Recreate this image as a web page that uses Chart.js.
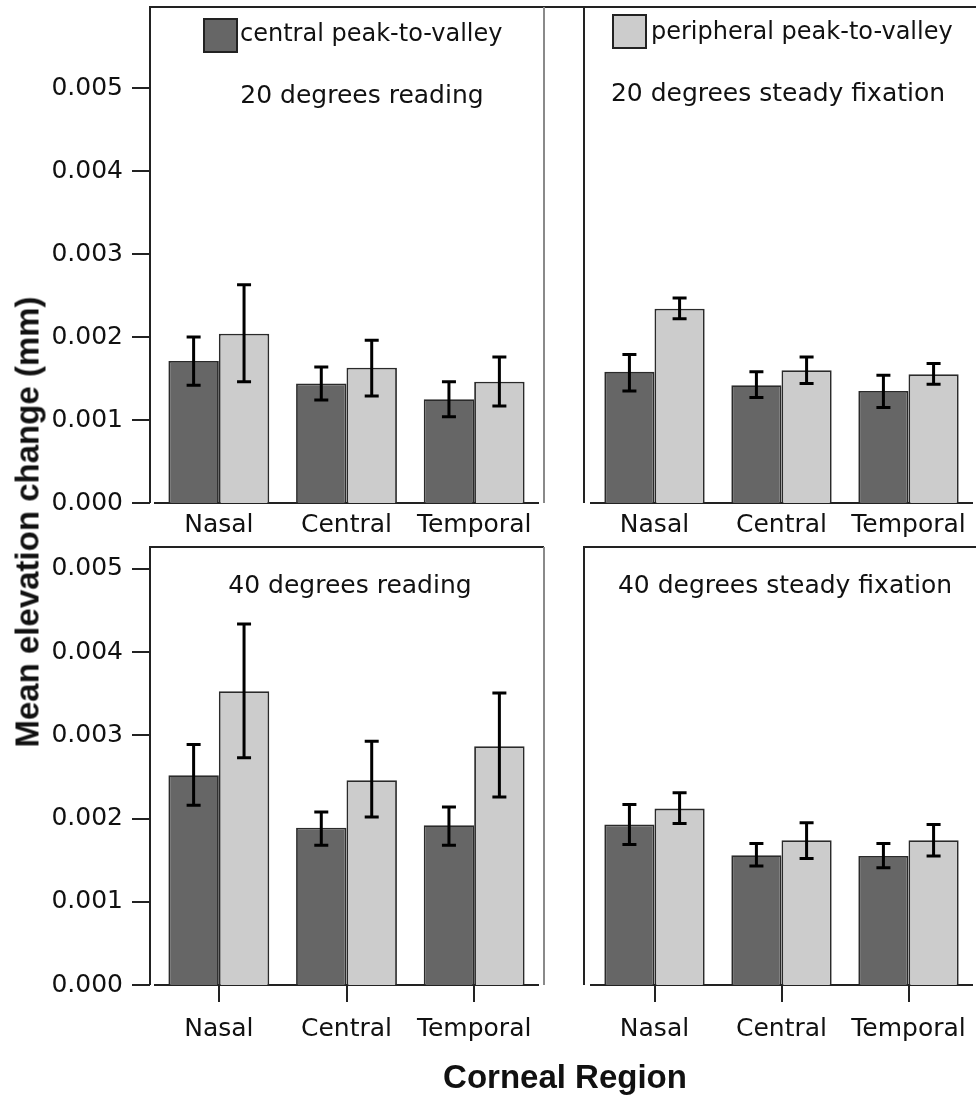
<!DOCTYPE html>
<html>
<head>
<meta charset="utf-8">
<script src="https://cdn.jsdelivr.net/npm/chart.js@4.4.1/dist/chart.umd.min.js"></script>
<style>
  body { margin: 0; background: #fff; }
  #wrap { position: relative; width: 976px; height: 1095px; overflow: hidden; font-family: 'DejaVu Sans'; color: #111; }
  canvas { position: absolute; left: 0; top: 0; }
  .key { position: absolute; font-size: 24px; line-height: 1; white-space: nowrap; }
  .key i { position: absolute; width: 31px; height: 31px; border: 2px solid #222; }
  .axis-title { position: absolute; font-family: 'Liberation Sans'; font-weight: bold; font-size: 33px; line-height: 1; white-space: nowrap; transform: translate(-50%, -50%); }
</style>
</head>
<body>
<div id="wrap">
  <canvas id="p1" width="976" height="1095"></canvas>
  <canvas id="p2" width="976" height="1095"></canvas>
  <canvas id="p3" width="976" height="1095"></canvas>
  <canvas id="p4" width="976" height="1095"></canvas>
  <div class="axis-title" style="left:27px; top:522px; transform: translate(-50%, -50%) rotate(-90deg);">Mean elevation change (mm)</div>
  <div class="axis-title" style="left:565px; top:1076px;">Corneal Region</div>
</div>
<script>
const regions = ['Nasal', 'Central', 'Temporal'];
const seriesNames = ['central peak-to-valley', 'peripheral peak-to-valley'];
const seriesColors = ['#666666', '#cccccc'];
const yTicks = [0, 0.001, 0.002, 0.003, 0.004, 0.005];
const panelTitles = ['20 degrees reading', '20 degrees steady fixation', '40 degrees reading', '40 degrees steady fixation'];

// mean elevation change with 95% CI bounds
const read20Central = [0.00171, 0.00144, 0.00125];
const read20CentralLow = [0.00142, 0.00124, 0.00104];
const read20CentralHigh = [0.00200, 0.00164, 0.00146];
const read20Periph = [0.00204, 0.00163, 0.00146];
const read20PeriphLow = [0.00146, 0.00129, 0.00117];
const read20PeriphHigh = [0.00263, 0.00196, 0.00176];

const fix20Central = [0.00158, 0.00142, 0.00135];
const fix20CentralLow = [0.00135, 0.00127, 0.00115];
const fix20CentralHigh = [0.00179, 0.00158, 0.00154];
const fix20Periph = [0.00234, 0.00160, 0.00155];
const fix20PeriphLow = [0.00222, 0.00144, 0.00143];
const fix20PeriphHigh = [0.00247, 0.00176, 0.00168];

const read40Central = [0.00252, 0.00189, 0.00192];
const read40CentralLow = [0.00216, 0.00168, 0.00168];
const read40CentralHigh = [0.00289, 0.00208, 0.00214];
const read40Periph = [0.00353, 0.00246, 0.00287];
const read40PeriphLow = [0.00273, 0.00202, 0.00226];
const read40PeriphHigh = [0.00434, 0.00293, 0.00351];

const fix40Central = [0.00193, 0.00156, 0.00155];
const fix40CentralLow = [0.00169, 0.00143, 0.00141];
const fix40CentralHigh = [0.00217, 0.00170, 0.00170];
const fix40Periph = [0.00212, 0.00174, 0.00174];
const fix40PeriphLow = [0.00194, 0.00152, 0.00155];
const fix40PeriphHigh = [0.00231, 0.00195, 0.00193];

Chart.defaults.font.family = 'DejaVu Sans';
Chart.defaults.color = '#111';

// whiskers for the confidence intervals
const errorBars = {
  id: 'errorBars',
  afterDatasetsDraw(chart) {
    const ctx = chart.ctx, y = chart.scales.y;
    ctx.save();
    ctx.strokeStyle = '#000';
    ctx.lineWidth = 3;
    chart.data.datasets.forEach((ds, i) => {
      chart.getDatasetMeta(i).data.forEach((bar, j) => {
        const hi = y.getPixelForValue(ds.errHigh[j]);
        const lo = y.getPixelForValue(ds.errLow[j]);
        ctx.beginPath();
        ctx.moveTo(bar.x, hi); ctx.lineTo(bar.x, lo);
        ctx.moveTo(bar.x - 7, hi); ctx.lineTo(bar.x + 7, hi);
        ctx.moveTo(bar.x - 7, lo); ctx.lineTo(bar.x + 7, lo);
        ctx.stroke();
      });
    });
    ctx.restore();
  }
};

// panel box, y tick marks and the panel caption
const panelFrame = {
  id: 'panelFrame',
  afterDraw(chart, args, o) {
    const ctx = chart.ctx, y = chart.scales.y, bottom = chart.chartArea.bottom;
    ctx.save();
    ctx.lineWidth = 2;
    ctx.strokeStyle = '#222';
    ctx.beginPath();
    ctx.moveTo(o.left, bottom);
    ctx.lineTo(o.left, o.top);
    ctx.lineTo(o.topEnd, o.top);
    ctx.stroke();
    if (o.right) {
      ctx.strokeStyle = '#8a8a8a';
      ctx.beginPath();
      ctx.moveTo(o.right, o.top);
      ctx.lineTo(o.right, bottom);
      ctx.stroke();
    }
    if (o.yTicks) {
      ctx.strokeStyle = '#222';
      y.ticks.forEach(t => {
        const py = Math.round(y.getPixelForValue(t.value));
        ctx.beginPath();
        ctx.moveTo(o.left - 18, py);
        ctx.lineTo(o.left, py);
        ctx.stroke();
      });
    }
    ctx.fillStyle = '#111';
    ctx.font = '25px "DejaVu Sans"';
    ctx.textAlign = 'center';
    ctx.textBaseline = 'middle';
    ctx.fillText(o.title, o.titleX, o.titleY);
    ctx.restore();
  }
};

const makePanel = (id, p) => {
  const xh = p.xTicks ? 60 : 50;
  new Chart(document.getElementById(id), {
    type: 'bar',
    data: {
      labels: regions,
      datasets: [
        { label: seriesNames[0], data: p.central, errLow: p.centralLow, errHigh: p.centralHigh,
          backgroundColor: seriesColors[0], borderColor: '#2a2a2a', borderWidth: 1.8 },
        { label: seriesNames[1], data: p.periph, errLow: p.periphLow, errHigh: p.periphHigh,
          backgroundColor: seriesColors[1], borderColor: '#2a2a2a', borderWidth: 1.8 }
      ]
    },
    options: {
      responsive: false,
      animation: false,
      categoryPercentage: 0.79,
      barPercentage: 1.0,
      layout: { padding: { left: p.showY ? 0 : p.left, right: 976 - p.right, top: p.top, bottom: 1095 - p.bottom - xh } },
      plugins: {
        legend: { display: false },
        tooltip: { enabled: false },
        panelFrame: { left: p.frameLeft, top: p.top, topEnd: p.topEnd, right: p.frameRight, yTicks: p.showY,
                      title: p.title, titleX: p.titleX, titleY: p.titleY }
      },
      scales: {
        x: {
          offset: true,
          grid: { display: true, drawOnChartArea: false, drawTicks: p.xTicks, tickLength: 17, offset: false, color: '#222', lineWidth: 2 },
          border: { display: true, color: '#222', width: 2 },
          ticks: { font: { size: 25 }, color: '#111', padding: p.xTicks ? 12 : 7, maxRotation: 0, autoSkip: false },
          afterFit: s => { s.height = xh; s.paddingLeft = 0; s.paddingRight = 0; }
        },
        y: {
          display: p.showY,
          bounds: 'data',
          min: 0,
          max: p.yMax,
          afterBuildTicks: s => { s.ticks = yTicks.map(v => ({ value: v })); },
          grid: { display: false, drawTicks: false },
          border: { display: false },
          ticks: { font: { size: 25 }, color: '#111', padding: 32, callback: v => v.toFixed(3) },
          afterFit: s => {
            if (p.showY) s.width = p.left;
            s.paddingTop = 0;
            s.paddingBottom = 0;
          }
        }
      }
    },
    plugins: [errorBars, panelFrame]
  });
};

makePanel('p1', {
  central: read20Central, centralLow: read20CentralLow, centralHigh: read20CentralHigh,
  periph: read20Periph, periphLow: read20PeriphLow, periphHigh: read20PeriphHigh,
  left: 155, right: 538, top: 7, bottom: 503, yMax: 0.005976, showY: true, xTicks: false,
  frameLeft: 150, frameRight: 544, topEnd: 976, title: panelTitles[0], titleX: 362, titleY: 96
});
makePanel('p2', {
  central: fix20Central, centralLow: fix20CentralLow, centralHigh: fix20CentralHigh,
  periph: fix20Periph, periphLow: fix20PeriphLow, periphHigh: fix20PeriphHigh,
  left: 591, right: 972, top: 7, bottom: 503, yMax: 0.005976, showY: false, xTicks: false,
  frameLeft: 584, frameRight: null, topEnd: 976, title: panelTitles[1], titleX: 778, titleY: 94
});
makePanel('p3', {
  central: read40Central, centralLow: read40CentralLow, centralHigh: read40CentralHigh,
  periph: read40Periph, periphLow: read40PeriphLow, periphHigh: read40PeriphHigh,
  left: 155, right: 538, top: 547, bottom: 985, yMax: 0.005264, showY: true, xTicks: true,
  frameLeft: 150, frameRight: 544, topEnd: 544, title: panelTitles[2], titleX: 350, titleY: 586
});
makePanel('p4', {
  central: fix40Central, centralLow: fix40CentralLow, centralHigh: fix40CentralHigh,
  periph: fix40Periph, periphLow: fix40PeriphLow, periphHigh: fix40PeriphHigh,
  left: 591, right: 972, top: 547, bottom: 985, yMax: 0.005264, showY: false, xTicks: true,
  frameLeft: 584, frameRight: null, topEnd: 976, title: panelTitles[3], titleX: 785, titleY: 586
});

// legend keys along the top edge
const keySpots = [{ box: [203, 18], text: [240, 21] }, { box: [612, 14], text: [651, 19] }];
const wrap = document.getElementById('wrap');
seriesNames.forEach((name, i) => {
  const sw = document.createElement('div');
  sw.className = 'key';
  sw.style.left = keySpots[i].box[0] + 'px';
  sw.style.top = keySpots[i].box[1] + 'px';
  sw.innerHTML = '<i style="background:' + seriesColors[i] + '"></i>';
  wrap.appendChild(sw);
  const label = document.createElement('div');
  label.className = 'key';
  label.style.left = keySpots[i].text[0] + 'px';
  label.style.top = keySpots[i].text[1] + 'px';
  label.textContent = name;
  wrap.appendChild(label);
});
</script>
</body>
</html>
